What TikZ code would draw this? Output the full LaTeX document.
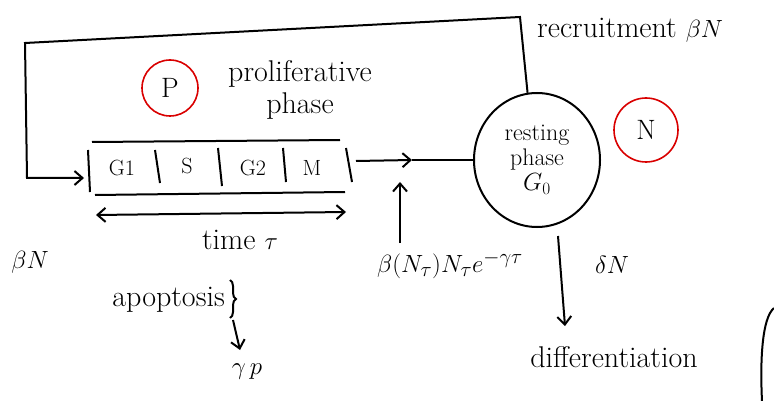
\documentclass[tikz,border=0pt]{standalone}
\usetikzlibrary{arrows.meta,decorations.pathreplacing,shapes.geometric}
\begin{document}
\begin{tikzpicture}[x=1pt,y=-1pt,
  ink/.style={line width=2pt,black},
  arr/.style={ink,-{Straight Barb[length=8pt,width=14pt,line width=2pt]}},
  lbl/.style={font=\fontsize{30}{32}\selectfont,inner sep=1pt},
  sml/.style={font=\fontsize{22}{25}\selectfont,inner sep=1pt},
  redc/.style={draw=red!85!black,line width=1.6pt,circle,inner sep=0pt,font=\fontsize{28}{30}\selectfont}]
\useasboundingbox (0,0) rectangle (774,401);
% resting phase
\node[draw,ink,ellipse,minimum width=126pt,minimum height=134pt,inner sep=0pt,align=center,font=\fontsize{24}{25}\selectfont] (rest) at (537,160) {resting\\phase\\$G_0$};
% cell cycle box
\draw[ink] (92,142) -- (340,140);
\draw[ink] (95,195) -- (345,192);
\draw[ink] (88,150) -- (90,192);
\draw[ink] (155,150) -- (160,183);
\draw[ink] (218,148) -- (222,186);
\draw[ink] (283,148) -- (286,182);
\draw[ink] (346,148) -- (352,182);
\node[sml] (g1) at (122,168) {G1};
\node[sml] (s) at (187,166) {S};
\node[sml] (g2) at (253,168) {G2};
\node[sml] (m) at (312,168) {M};
\coordinate (boxr) at (356,161);
% feedback loop
\coordinate (c1) at (520,17);
\coordinate (c2) at (25,43);
\coordinate (c3) at (27,178);
\coordinate (boxl) at (84,178);
\draw[arr] (rest.98) -- (c1) -- (c2) -- (c3) -- (boxl);
\node[lbl,anchor=west] (recr) at (536,30) {recruitment $\beta N$};
% proliferative label
\node[redc,minimum size=56pt] (P) at (170,88) {P};
\node[lbl,align=center] (prol) at (300,90) {proliferative\\phase};
% to resting
\coordinate (mid) at (412,160);
\draw[arr] (boxr) -- (mid);
\draw[ink] (mid) -- (rest.west);
% time
\coordinate (t1) at (96,215);
\coordinate (t2) at (346,212);
\draw[ink,{Straight Barb[length=8pt,width=14pt,line width=2pt]}-{Straight Barb[length=8pt,width=14pt,line width=2pt]}] (t1) -- (t2);
\node[lbl] (time) at (240,240) {time $\tau$};
\node[lbl] (bn) at (30,262) {$\beta N$};
% input from proliferative
\node[lbl] (flux) at (450,265) {$\beta(N_\tau)N_\tau e^{-\gamma\tau}$};
\coordinate (up) at (400,182);
\coordinate (up0) at (400,243);
\draw[arr] (up0) -- (up);
% N
\node[redc,minimum size=64pt] (N) at (646,130) {N};
% differentiation
\node[lbl] (diff) at (614,357) {differentiation};
\coordinate (d0) at (558,236);
\coordinate (d1) at (565,326);
\draw[arr] (d0) -- (d1);
\node[lbl] (dn) at (612,265) {$\delta N$};
% apoptosis
\node[lbl,anchor=east] (apo) at (226,300) {apoptosis};
\draw[ink,decorate,decoration={brace,amplitude=6pt}] (230,280) -- (230,318);
\node[lbl] (gp) at (247,372) {$\gamma\,p$};
\coordinate (a0) at (233,320);
\coordinate (a1) at (240,350);
\draw[arr] (a0) -- (a1);
% partial curve at bottom right
\draw[ink] (774,308) .. controls (762,318) and (760,360) .. (762,401);
\end{tikzpicture}
\end{document}
